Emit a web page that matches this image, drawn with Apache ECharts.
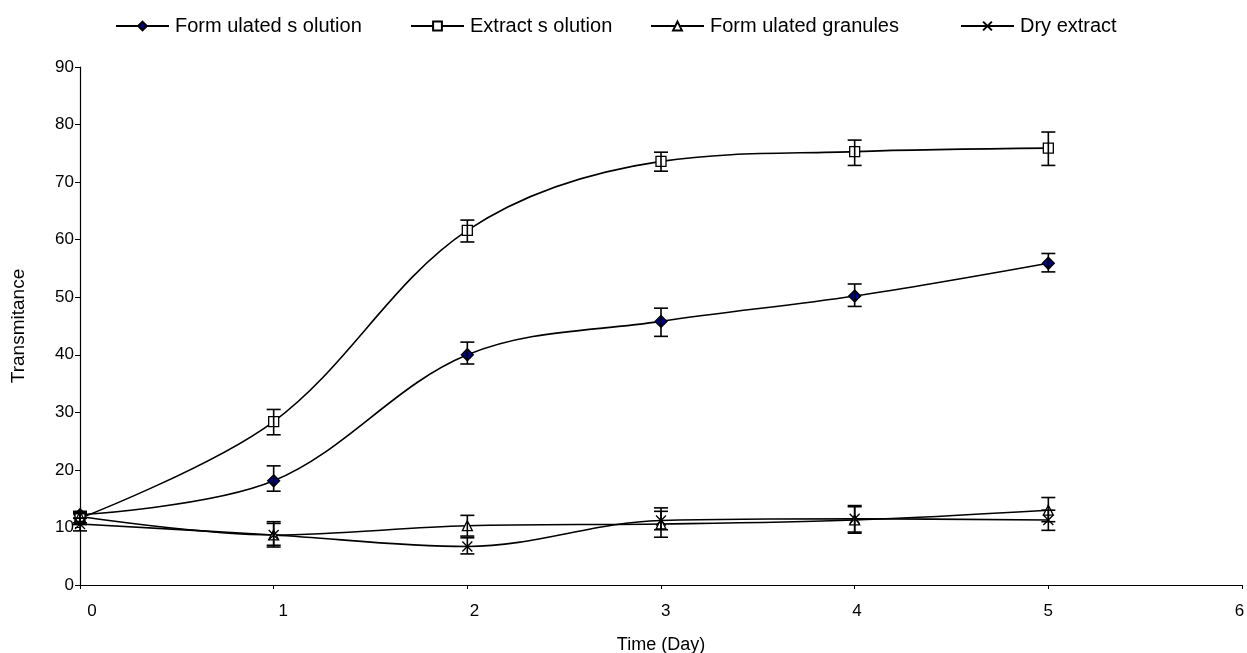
<!DOCTYPE html>
<html>
<head>
<meta charset="utf-8">
<script src="https://cdn.jsdelivr.net/npm/echarts@6/dist/echarts.min.js"></script>
<style>html,body{margin:0;padding:0;background:#fff}#c{width:1247px;height:653px}</style>
</head>
<body>
<div id="c"></div>
<script>
const days = [0, 1, 2, 3, 4, 5];
const xTicks = [0, 1, 2, 3, 4, 5, 6];
const seriesNames = ['Form ulated s olution', 'Extract s olution', 'Form ulated granules', 'Dry extract'];

const formulatedSolution = [12.2, 18.1, 40.0, 45.8, 50.2, 55.9];
const formulatedSolutionLo = [11.6, 16.3, 38.4, 43.2, 48.4, 54.4];
const formulatedSolutionHi = [12.8, 20.7, 42.2, 48.1, 52.3, 57.6];

const extractSolution = [11.6, 28.4, 61.6, 73.6, 75.3, 75.9];
const extractSolutionLo = [10.8, 26.1, 59.6, 71.9, 72.9, 72.9];
const extractSolutionHi = [12.4, 30.5, 63.4, 75.2, 77.3, 78.7];

const formulatedGranules = [11.9, 8.7, 10.3, 10.6, 11.3, 13.0];
const formulatedGranulesLo = [10.5, 6.6, 8.5, 8.3, 9.0, 11.0];
const formulatedGranulesHi = [12.6, 11.0, 12.1, 12.8, 13.8, 15.2];

const dryExtract = [10.6, 8.7, 6.7, 11.2, 11.5, 11.3];
const dryExtractLo = [9.4, 6.9, 5.4, 9.6, 9.2, 9.5];
const dryExtractHi = [11.6, 10.7, 8.2, 13.4, 13.6, 13.0];

const yTicks = [0, 10, 20, 30, 40, 50, 60, 70, 80, 90];

const FONT = '"Liberation Sans", Arial, sans-serif';
const chart = echarts.init(document.getElementById('c'), null, {renderer: 'canvas'});

function pts(vals) { return days.map((d, i) => [d, vals[i]]); }
function bars(lo, hi) { return days.map((d, i) => [d, lo[i], hi[i]]); }

function errSeries(name, lo, hi) {
  return {
    type: 'custom',
    name: name + ' err',
    data: bars(lo, hi),
    encode: {x: 0, y: [1, 2]},
    z: 5,
    silent: true,
    renderItem: function (params, api) {
      const x = api.value(0);
      const a = api.coord([x, api.value(1)]);
      const b = api.coord([x, api.value(2)]);
      const h = 7;
      const st = {stroke: '#000', lineWidth: 1.6};
      return {
        type: 'group',
        children: [
          {type: 'line', shape: {x1: a[0], y1: a[1], x2: b[0], y2: b[1]}, style: st},
          {type: 'line', shape: {x1: a[0] - h, y1: a[1], x2: a[0] + h, y2: a[1]}, style: st},
          {type: 'line', shape: {x1: b[0] - h, y1: b[1], x2: b[0] + h, y2: b[1]}, style: st}
        ]
      };
    }
  };
}

function lineSeries(name, vals, symbol, fill, size) {
  return {
    type: 'line',
    name: name,
    data: pts(vals),
    smooth: 0.35,
    symbol: symbol,
    symbolSize: size,
    showAllSymbol: true,
    z: 4,
    lineStyle: {color: '#000', width: 1.6},
    itemStyle: {color: fill, borderColor: '#000', borderWidth: 1.3},
    emphasis: {disabled: true}
  };
}

const crossPath = 'path://M0,0L10,10M10,0L0,10';

const legendLefts = [115, 410, 650, 960];

const option = {
  animation: false,
  backgroundColor: '#fff',
  legend: seriesNames.map((n, i) => ({
    data: [n],
    left: legendLefts[i],
    top: 16,
    padding: 0,
    itemWidth: 53,
    itemHeight: 11,
    itemGap: 5,
    textStyle: {fontFamily: FONT, fontSize: 20, color: '#000', padding: [0, 0, 0, 1]},
    selectedMode: false
  })),
  grid: {left: 80, right: 5, top: 67, bottom: 68, containLabel: false, outerBoundsMode: 'none'},
  xAxis: {
    type: 'value',
    min: 0, max: 6, interval: 1,
    name: 'Time (Day)',
    nameLocation: 'middle',
    nameGap: 51,
    nameTextStyle: {fontFamily: FONT, fontSize: 18, color: '#000'},
    axisLine: {show: true, lineStyle: {color: '#000', width: 1.2}},
    axisTick: {show: true, inside: false, length: 4, lineStyle: {color: '#000'}},
    splitLine: {show: false},
    axisLabel: {
      margin: 18,
      fontFamily: FONT, fontSize: 17, color: '#000',
      formatter: function (v) { return '{o' + v + '|' + v + '}'; },
      rich: Object.fromEntries(xTicks.map(v => {
        const off = 12 - 2.4 * v;
        return ['o' + v, {fontFamily: FONT, fontSize: 17, color: '#000',
          padding: off >= 0 ? [0, 0, 0, 2 * off] : [0, -2 * off, 0, 0]}];
      }))
    }
  },
  yAxis: {
    type: 'value',
    min: 0, max: 90, interval: 10,
    name: 'Transmitance',
    nameLocation: 'middle',
    nameGap: 52,
    nameTextStyle: {fontFamily: FONT, fontSize: 19, color: '#000'},
    axisLine: {show: true, lineStyle: {color: '#000', width: 1.2}},
    axisTick: {show: true, inside: false, length: 5, lineStyle: {color: '#000'}},
    splitLine: {show: false},
    axisLabel: {margin: 6, fontFamily: FONT, fontSize: 17, color: '#000'}
  },
  series: [
    lineSeries(seriesNames[0], formulatedSolution, 'diamond', '#000080', 12),
    lineSeries(seriesNames[1], extractSolution, 'rect', '#fff', 10),
    lineSeries(seriesNames[2], formulatedGranules, 'triangle', '#fff', 10),
    lineSeries(seriesNames[3], dryExtract, crossPath, 'rgba(0,0,0,0)', 10),
    errSeries(seriesNames[0], formulatedSolutionLo, formulatedSolutionHi),
    errSeries(seriesNames[1], extractSolutionLo, extractSolutionHi),
    errSeries(seriesNames[2], formulatedGranulesLo, formulatedGranulesHi),
    errSeries(seriesNames[3], dryExtractLo, dryExtractHi)
  ]
};
chart.setOption(option);
</script>
</body>
</html>
